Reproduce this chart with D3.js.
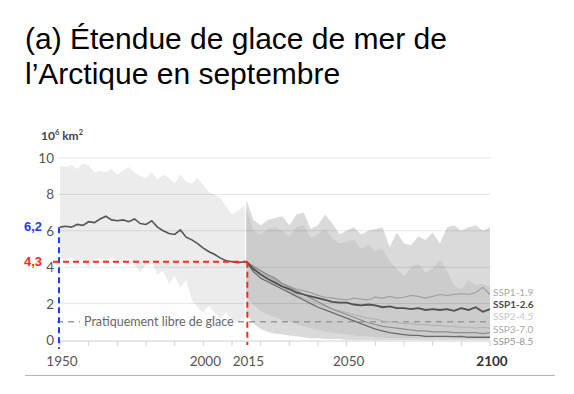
<!DOCTYPE html>
<html>
<head>
<meta charset="utf-8">
<script src="https://cdn.jsdelivr.net/npm/d3@7"></script>
<style>
  body { margin: 0; background: #fff; }
  svg { display: block; }
</style>
</head>
<body>
<div id="chart"></div>
<script>
// historical ensemble range + observed line
const histYears = [1950,1952,1954,1956,1958,1960,1962,1964,1966,1968,1970,1972,1974,1976,1978,1980,1982,1984,1986,1988,1990,1992,1994,1996,1998,2000,2002,2004,2006,2008,2010,2012,2014.5]
const histUpper = [9.6,9.5,9.6,9.4,9.7,9.6,9.2,9.3,9.2,9.4,9.1,9.3,9.5,9.2,9.0,8.9,9.2,8.8,9.1,8.9,8.6,9.1,8.7,8.6,8.9,8.5,8.1,8.0,7.8,7.3,6.9,7.1,7.4]
const histLower = [4.5,4.4,4.5,4.3,4.4,4.0,4.4,4.5,4.3,4.5,4.4,4.3,4.5,4.2,3.7,4.2,4.3,3.6,3.8,3.1,3.5,2.9,3.3,2.2,1.8,1.5,1.9,1.5,1.2,1.5,1.1,1.0,1.2]
const histLine  = [6.2,6.25,6.2,6.35,6.3,6.5,6.45,6.65,6.8,6.6,6.55,6.6,6.5,6.65,6.4,6.35,6.55,6.2,6.0,5.85,5.8,6.05,5.65,5.5,5.3,5.05,4.85,4.7,4.5,4.35,4.3,4.25,4.3]

// projections
const projYears = [2015,2017.5,2020,2022.5,2025,2027.5,2030,2032.5,2035,2037.5,2040,2042.5,2045,2047.5,2050,2052.5,2055,2057.5,2060,2062.5,2065,2067.5,2070,2072.5,2075,2077.5,2080,2082.5,2085,2087.5,2090,2092.5,2095,2097.5,2100]
const outerUpper = [7.7,6.6,6.3,6.6,6.7,6.8,6.3,6.9,7.0,6.1,6.3,6.9,6.4,5.8,6.0,6.2,5.8,6.0,6.1,6.2,5.1,5.9,5.3,5.2,5.7,5.5,5.9,5.3,6.2,6.3,6.0,6.2,6.3,6.0,6.2]
const outerLower = [1.4,0.9,0.6,0.45,0.35,0.3,0.25,0.2,0.15,0.1,0.1,0.05,0.05,0.05,0,0,0,0,0,0,0,0,0,0,0,0,0,0,0,0,0,0,0,0,0]
const innerUpper = [7.2,6.0,5.8,6.1,6.2,6.0,5.7,6.2,6.3,5.6,5.8,6.1,5.6,5.3,5.4,5.5,5.0,5.2,4.9,5.0,4.3,3.9,3.5,4.0,4.2,3.7,3.9,4.4,3.8,3.0,2.8,3.3,3.0,3.1,2.9]
const innerLower = [2.4,1.9,1.6,1.4,1.25,1.1,1.0,0.85,0.75,0.65,0.55,0.45,0.4,0.35,0.3,0.25,0.2,0.2,0.15,0.15,0.1,0.1,0.1,0.1,0.1,0.1,0.1,0.1,0.1,0.1,0.1,0.1,0.1,0.1,0.1]

const ssp119 = [4.3,4.0,3.8,3.5,3.3,3.1,2.95,2.8,2.7,2.6,2.45,2.35,2.3,2.25,2.2,2.3,2.25,2.2,2.35,2.3,2.4,2.3,2.35,2.45,2.4,2.3,2.4,2.5,2.45,2.5,2.55,2.5,2.6,2.9,2.5]
const ssp126 = [4.3,3.9,3.6,3.35,3.15,2.95,2.8,2.6,2.5,2.4,2.3,2.2,2.1,2.05,2.05,1.95,1.9,1.95,1.9,1.8,1.85,1.75,1.75,1.7,1.75,1.65,1.7,1.65,1.7,1.6,1.75,1.65,1.8,1.55,1.7]
const ssp245 = [4.3,3.95,3.7,3.4,3.2,2.95,2.7,2.5,2.3,2.15,2.0,1.85,1.7,1.6,1.5,1.4,1.3,1.2,1.15,1.05,1.0,0.95,0.9,0.9,0.85,0.85,0.8,0.8,0.75,0.75,0.7,0.7,0.65,0.7,0.65]
const ssp370 = [4.3,4.05,3.8,3.6,3.4,3.1,2.9,2.7,2.5,2.3,2.1,1.9,1.7,1.55,1.4,1.25,1.1,0.95,0.85,0.75,0.7,0.65,0.6,0.55,0.5,0.5,0.45,0.45,0.45,0.4,0.4,0.4,0.4,0.35,0.4]
const ssp585 = [4.3,3.75,3.4,3.2,3.0,2.8,2.6,2.4,2.2,2.0,1.8,1.65,1.5,1.35,1.2,1.05,0.9,0.75,0.6,0.5,0.4,0.35,0.3,0.25,0.25,0.2,0.2,0.2,0.2,0.18,0.2,0.15,0.15,0.15,0.15]

const sspNames = ['SSP1-1.9','SSP1-2.6','SSP2-4.5','SSP3-7.0','SSP5-8.5']
const sspLabelY = [2.62, 1.98, 1.3, 0.63, -0.05]

const yTicks = [0,2,4,6,8,10]
const xLabels = [1950,2000,2015,2050,2100]
const iceFree = 1
const mark1950 = 6.2
const mark2015 = 4.3

const width = 574
const height = 394

const svg = d3.select('#chart')
  .append('svg')
  .attr('width', width)
  .attr('height', height)

const x = d3.scaleLinear().domain([1950, 2100]).range([60, 490])
const y = d3.scaleLinear().domain([0, 10]).range([340, 158])

// title
const title = svg.append('text')
  .attr('font-family', 'Liberation Sans, Arial, sans-serif')
  .attr('font-size', 30)
  .attr('fill', '#000')
title.append('tspan').attr('x', 25).attr('y', 49).text('(a) Étendue de glace de mer de')
title.append('tspan').attr('x', 25).attr('y', 84).text('l’Arctique en septembre')

const band = (xs, lo, hi) => d3.area()
  .x((d, i) => x(xs[i]))
  .y0((d, i) => y(lo[i]))
  .y1((d, i) => y(hi[i]))(xs)

svg.append('path').attr('d', band(histYears, histLower, histUpper)).attr('fill', '#ececec')
svg.append('path').attr('d', band(projYears, outerLower, outerUpper)).attr('fill', '#dadada')
svg.append('path').attr('d', band(projYears, innerLower, innerUpper)).attr('fill', '#cccccc')

// gridlines
svg.append('g')
  .selectAll('line')
  .data(yTicks.filter(d => d > 0))
  .join('line')
  .attr('x1', 58).attr('x2', 490)
  .attr('y1', d => y(d)).attr('y2', d => y(d))
  .attr('stroke', 'rgba(0,0,0,0.1)')

// y labels
svg.append('g')
  .selectAll('text')
  .data(yTicks)
  .join('text')
  .attr('x', 54)
  .attr('y', d => y(d) + 5)
  .attr('text-anchor', 'end')
  .attr('font-family', 'Lato, sans-serif')
  .attr('font-size', 13.5)
  .attr('fill', '#555')
  .text(d => d)

const unit = svg.append('text')
  .attr('x', 41).attr('y', 140)
  .attr('font-family', 'Lato, sans-serif')
  .attr('font-size', 12)
  .attr('font-weight', 'bold')
  .attr('fill', '#444')
unit.append('tspan').text('10')
unit.append('tspan').attr('font-size', 7.5).attr('dy', -5).text('6')
unit.append('tspan').attr('dy', 5).text(' km')
unit.append('tspan').attr('font-size', 7.5).attr('dy', -5).text('2')

// x axis
svg.append('line')
  .attr('x1', 58).attr('x2', 490)
  .attr('y1', y(0) + 1).attr('y2', y(0) + 1)
  .attr('stroke', '#d0d0d0')
svg.append('g')
  .selectAll('line')
  .data(d3.range(1950, 2101, 10))
  .join('line')
  .attr('x1', d => x(d)).attr('x2', d => x(d))
  .attr('y1', y(0) + 1).attr('y2', y(0) + 6)
  .attr('stroke', '#d0d0d0')
svg.append('g')
  .selectAll('text')
  .data(xLabels)
  .join('text')
  .attr('x', d => x(d) + 2)
  .attr('y', 366)
  .attr('text-anchor', 'middle')
  .attr('font-family', 'Lato, sans-serif')
  .attr('font-size', 13.5)
  .attr('font-weight', d => d == 2100 ? 'bold' : 'normal')
  .attr('fill', d => d == 2100 ? '#333' : '#555')
  .text(d => d)

svg.append('line')
  .attr('x1', 25).attr('x2', 555)
  .attr('y1', 375.5).attr('y2', 375.5)
  .attr('stroke', '#b5b5b5')

// ice free line
const freeLabel = svg.append('text')
  .attr('x', 84).attr('y', y(iceFree) + 4)
  .attr('font-family', 'Lato, sans-serif')
  .attr('font-size', 12.5)
  .attr('fill', '#666')
  .text('Pratiquement libre de glace')
const fb = freeLabel.node().getBBox()
svg.append('line')
  .attr('x1', 57).attr('x2', fb.x - 4)
  .attr('y1', y(iceFree)).attr('y2', y(iceFree))
  .attr('stroke', '#999').attr('stroke-width', 1.5).attr('stroke-dasharray', '6,5')
svg.append('line')
  .attr('x1', fb.x + fb.width + 4).attr('x2', 490)
  .attr('y1', y(iceFree)).attr('y2', y(iceFree))
  .attr('stroke', '#999').attr('stroke-width', 1.5).attr('stroke-dasharray', '6,5')

// lines
const line = d3.line().x(d => x(d[0])).y(d => y(d[1]))

svg.append('path')
  .attr('d', line(histYears.map((d, i) => [d, histLine[i]]).concat([[projYears[0], ssp126[0]]])))
  .attr('fill', 'none').attr('stroke', '#555').attr('stroke-width', 1.6)

const sspSeries = [ssp119, ssp126, ssp245, ssp370, ssp585]
const sspColors = ['#a0a0a0', '#505050', '#b4b4b4', '#8c8c8c', '#6a6a6a']
const sspWidths = [1.2, 1.8, 1.2, 1.2, 1.3]
const drawOrder = [2, 0, 3, 4, 1]

drawOrder.forEach(k => {
  svg.append('path')
    .attr('d', line(projYears.map((d, i) => [d, sspSeries[k][i]])))
    .attr('fill', 'none')
    .attr('stroke', sspColors[k])
    .attr('stroke-width', sspWidths[k])
})

const labelColors = ['#a8a8a8', '#4a4a4a', '#c6c6c6', '#a8a8a8', '#959595']
svg.append('g')
  .selectAll('text')
  .data(sspNames)
  .join('text')
  .attr('x', 493)
  .attr('y', (d, i) => y(sspLabelY[i]) + 4)
  .attr('font-family', 'Lato, sans-serif')
  .attr('font-size', 10)
  .attr('font-weight', (d, i) => i == 1 ? 'bold' : 'normal')
  .attr('fill', (d, i) => labelColors[i])
  .text(d => d)

// annotation markers
svg.append('line')
  .attr('x1', x(1950) - 1).attr('x2', x(1950) - 1)
  .attr('y1', y(mark1950)).attr('y2', 349)
  .attr('stroke', '#1e3cff').attr('stroke-width', 2).attr('stroke-dasharray', '6,4')
svg.append('line')
  .attr('x1', 53).attr('x2', x(2015) + 1)
  .attr('y1', y(mark2015)).attr('y2', y(mark2015))
  .attr('stroke', '#ff2a1a').attr('stroke-width', 2).attr('stroke-dasharray', '6,4')
svg.append('line')
  .attr('x1', x(2015) + 1).attr('x2', x(2015) + 1)
  .attr('y1', y(mark2015)).attr('y2', 345)
  .attr('stroke', '#ff2a1a').attr('stroke-width', 2).attr('stroke-dasharray', '6,4')

svg.append('text')
  .attr('x', 24).attr('y', y(mark1950) + 4)
  .attr('font-family', 'Liberation Sans, Arial, sans-serif')
  .attr('font-size', 13).attr('font-weight', 'bold')
  .attr('fill', '#1e3cff')
  .text('6,2')
svg.append('text')
  .attr('x', 24).attr('y', y(mark2015) + 4)
  .attr('font-family', 'Liberation Sans, Arial, sans-serif')
  .attr('font-size', 13).attr('font-weight', 'bold')
  .attr('fill', '#ff2a1a')
  .text('4,3')
</script>
</body>
</html>
